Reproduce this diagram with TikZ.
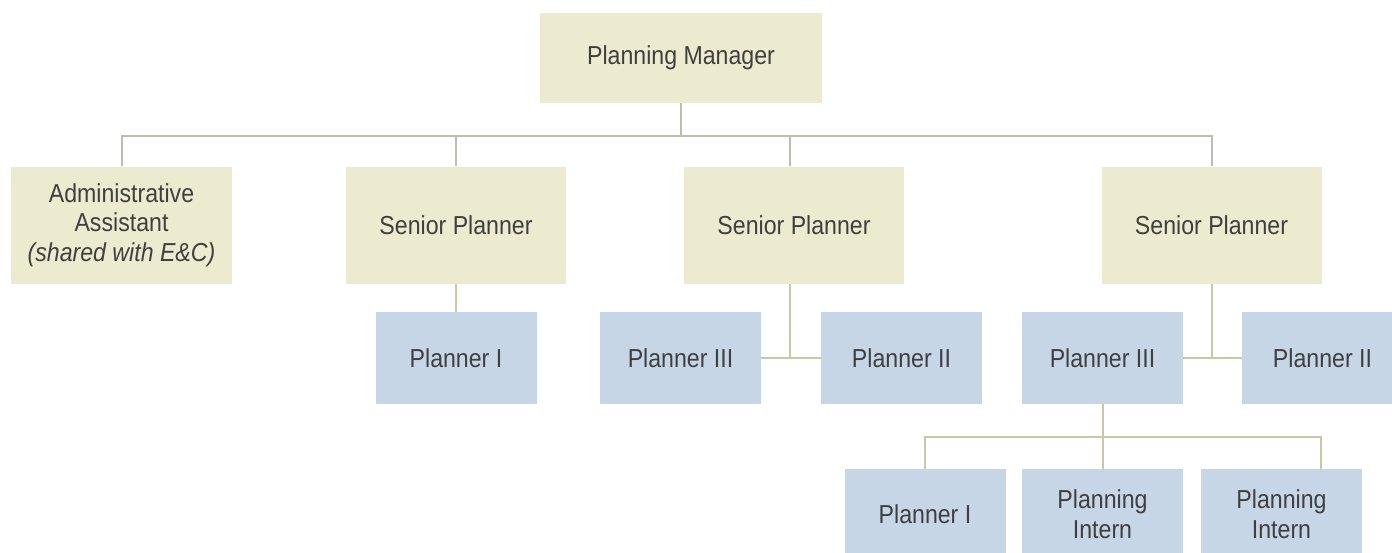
\documentclass[tikz,border=0pt]{standalone}
\usepackage{fontspec}
\setmainfont{Liberation Sans}[FakeStretch=0.89]
\usetikzlibrary{calc}
\definecolor{tan}{HTML}{ECEBCF}
\definecolor{sky}{HTML}{C6D6E7}
\definecolor{upline}{HTML}{BDBDB2}
\definecolor{lowline}{HTML}{C8C7A6}
\definecolor{ink}{HTML}{3F3F3F}
\tikzset{
  box/.style={rectangle, inner sep=0pt, align=center, text=ink,
    font=\fontsize{26}{29.5}\selectfont},
  senior/.style={box, fill=tan, minimum width=220pt, minimum height=117pt},
  planner/.style={box, fill=sky, minimum width=161pt, minimum height=92pt},
  upwire/.style={draw=upline, line width=2pt},
  lowwire/.style={draw=lowline, line width=2pt}
}
\begin{document}
\begin{tikzpicture}[x=1pt, y=-1pt]
  \fill[white] (0,0) rectangle (1392,552);
  \clip (0,0) rectangle (1392,552);

  % top levels
  \node[box, fill=tan, minimum width=282pt, minimum height=90pt] (mgr) at (681,58) {Planning Manager};
  \node[senior, minimum width=221pt] (admin) at (121.5,225) {Administrative\\Assistant\\\textit{(shared with E\&C)}};
  \node[senior] (sp1) at (456,225) {Senior Planner};
  \node[senior] (sp2) at (794,225) {Senior Planner};
  \node[senior] (sp3) at (1211.5,225) {Senior Planner};

  % planners
  \node[planner] (pa) at (456,358) {Planner I};
  \node[planner] (pb) at (680.5,358) {Planner III};
  \node[planner] (pc) at (901.5,358) {Planner II};
  \node[planner] (pd) at (1102.5,358) {Planner III};
  \node[planner] (pe) at (1322.5,358) {Planner II};

  % bottom row
  \node[planner, minimum height=90pt] (qa) at (925,514) {Planner I};
  \node[planner, minimum height=90pt] (qb) at (1102.5,514) {Planning\\Intern};
  \node[planner, minimum height=90pt] (qc) at (1281.5,514) {Planning\\Intern};

  % junction points
  \coordinate (bus) at (680,136);
  \coordinate (j2) at (790,358);
  \coordinate (j3) at (1211.5,358);
  \coordinate (low) at (1321,437);

  % manager to first row
  \draw[upwire] (mgr.south) -- (mgr.south |- bus);
  \draw[upwire] (admin.north) |- (sp3.north |- bus) -- (sp3.north);
  \draw[upwire] (sp1.north) -- (sp1.north |- bus);
  \draw[upwire] (sp2.north -| j2) -- (j2 |- bus);

  % senior planners to planners
  \draw[lowwire] (sp1.south) -- (pa.north);
  \draw[lowwire] (sp2.south -| j2) -- (j2);
  \draw[lowwire] (pb.east) -- (pc.west);
  \draw[lowwire] (sp3.south) -- (j3);
  \draw[lowwire] (pd.east) -- (pe.west);

  % planner III to its reports
  \draw[lowwire] (pd.south) -- (qb.north);
  \draw[lowwire] (qa.north) |- (low) -- (qc.north -| low);
\end{tikzpicture}
\end{document}
